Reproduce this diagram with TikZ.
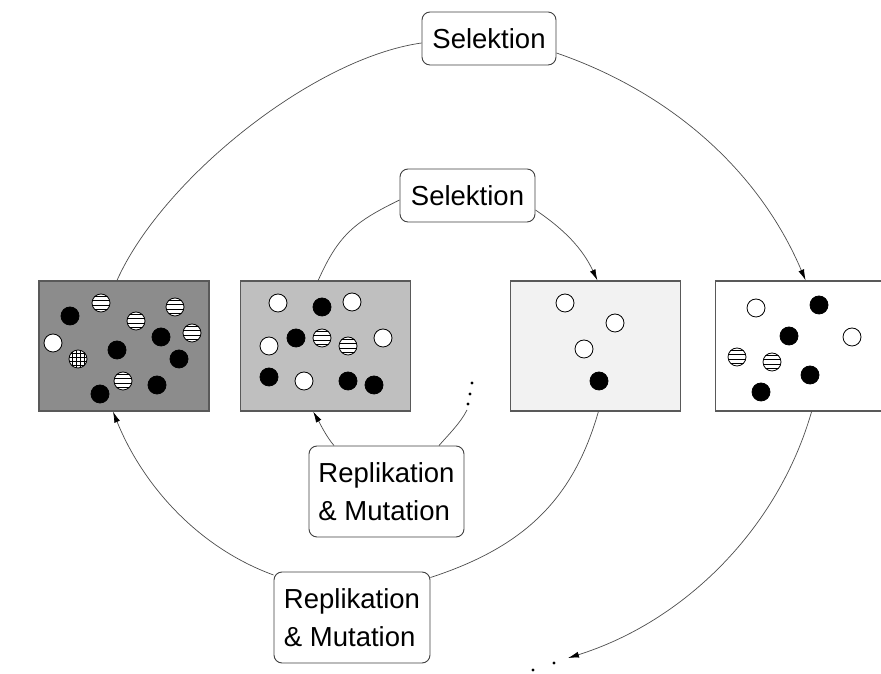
\documentclass[tikz,border=0pt]{standalone}
\usepackage{fontspec}
\setmainfont{Liberation Sans}
\usetikzlibrary{arrows.meta, positioning}

\begin{document}
\begin{tikzpicture}[x=1pt, y=1pt]
    % Styles
    \tikzstyle{popbox} = [rectangle, minimum width=170pt, minimum height=130pt, inner sep=0pt, draw=black!65, line width=1.2pt]
    \tikzstyle{labelbox} = [rectangle, rounded corners=8pt, draw=black!75, line width=0.9pt, fill=white, inner sep=0pt, align=left, font=\fontsize{27.5}{38}\selectfont]
    \tikzstyle{bead} = [circle, minimum size=18pt, inner sep=0pt, draw=black, line width=0.8pt]
    \tikzstyle{beadfull} = [bead, fill=black]
    \tikzstyle{beadempty} = [bead, fill=white]
    \tikzstyle{beadstripe} = [bead, fill=white, path picture={\foreach \d in {-6.75,-2.25,2.25,6.75} \draw[line width=1.3pt] ([shift={(-10pt,\d pt)}]path picture bounding box.center) -- ++(20pt,0);}]
    \tikzstyle{beadgrid} = [bead, fill=white, path picture={\foreach \d in {-6,-2,2,6} {\draw[line width=0.8pt] ([shift={(-10pt,\d pt)}]path picture bounding box.center) -- ++(20pt,0); \draw[line width=0.8pt] ([shift={(\d pt,-10pt)}]path picture bounding box.center) -- ++(0,20pt);}}]
    \tikzstyle{link} = [draw=black!70, line width=0.7pt]
    \tikzstyle{arrow} = [link, -{Latex[length=11pt, width=6pt, black]}]

    \useasboundingbox (0,0) rectangle (881,674);

    % Populations
    \node (pop1) [popbox, fill=black!45] at (124,328) {};
    \node (pop2) [popbox, fill=black!25, right=30pt of pop1] {};
    \node (pop3) [popbox, fill=black!5, right=99pt of pop2] {};
    \node (pop4) [popbox, fill=white, right=34pt of pop3] {};

    % Labels
    \node (selA) [labelbox, minimum width=134pt, minimum height=53pt] at (489,635.5) {Selektion};
    \node (selB) [labelbox, minimum width=135pt, minimum height=53pt] at (467.5,478.5) {Selektion};
    \node (repB) [labelbox, minimum width=155pt, minimum height=91pt] at (386.5,182.5) {Replikation\\\& Mutation};
    \node (repA) [labelbox, minimum width=156pt, minimum height=91pt] at (352,56.5) {Replikation\\\& Mutation};

    \coordinate (dotsA) at (568,16);
    \coordinate (dotsB) at (467,264);

    % Beads, population 1
    \foreach \x/\y [count=\i] in {70/358, 161/337, 117/324, 179/315, 157/289, 100/280}
        \node (pa-full\i) [beadfull] at (\x,\y) {};
    \foreach \x/\y [count=\i] in {101/371, 136/353, 175/367, 192/341, 123/293}
        \node (pa-stripe\i) [beadstripe] at (\x,\y) {};
    \node (pa-empty1) [beadempty] at (53,331) {};
    \node (pa-grid1) [beadgrid] at (78,315) {};

    % Beads, population 2
    \foreach \x/\y [count=\i] in {322/367, 296/336, 269/297, 348/293, 374/289}
        \node (pb-full\i) [beadfull] at (\x,\y) {};
    \foreach \x/\y [count=\i] in {278/371, 352/372, 269/328, 383/336, 304/293}
        \node (pb-empty\i) [beadempty] at (\x,\y) {};
    \foreach \x/\y [count=\i] in {322/336, 348/328}
        \node (pb-stripe\i) [beadstripe] at (\x,\y) {};

    % Beads, population 3
    \foreach \x/\y [count=\i] in {565/371, 615/351, 584/325}
        \node (pc-empty\i) [beadempty] at (\x,\y) {};
    \node (pc-full1) [beadfull] at (599,293) {};

    % Beads, population 4
    \foreach \x/\y [count=\i] in {819/369, 789/338, 810/299, 761/282}
        \node (pd-full\i) [beadfull] at (\x,\y) {};
    \foreach \x/\y [count=\i] in {756/366, 852/337}
        \node (pd-empty\i) [beadempty] at (\x,\y) {};
    \foreach \x/\y [count=\i] in {737/317, 772/312}
        \node (pd-stripe\i) [beadstripe] at (\x,\y) {};

    % Arrows
    \draw [link] ([xshift=-7pt]pop1.north) .. controls +(66:110) and +(188:110) .. ([yshift=-4.5pt]selA.west);
    \draw [arrow] ([yshift=-14.5pt]selA.east) .. controls +(-19:120) and +(113:120) .. ([xshift=5pt]pop4.north);
    \draw [link] ([xshift=-7pt]pop2.north) .. controls +(66:50) and +(206:50) .. ([yshift=-4.5pt]selB.west);
    \draw [arrow] ([yshift=-14.5pt]selB.east) .. controls +(-34:35) and +(115:35) .. ([xshift=2pt]pop3.north);
    \draw [link] ([xshift=3pt]pop3.south) .. controls +(254:90) and +(18:100) .. ([yshift=40pt]repA.east);
    \draw [arrow] ([yshift=42.5pt]repA.west) .. controls +(160:80) and +(-68:80) .. ([xshift=-11pt]pop1.south);
    \draw [arrow] ([xshift=-52.5pt]repB.north) .. controls +(131:12) and +(-60:12) .. ([xshift=-12pt]pop2.south);
    \draw [link] ([xshift=52.5pt]repB.north) .. controls +(49:15) and +(243:15) .. (dotsB);
    \draw [arrow] ([xshift=11pt]pop4.south) .. controls +(254:122) and +(17.4:122) .. (dotsA);

    % Dots
    \fill (472,291) circle (1.6);
    \fill (470,280) circle (1.6);
    \fill (468,270) circle (1.6);
    \fill (533,4) circle (1.6);
    \fill (554,11) circle (1.6);
\end{tikzpicture}
\end{document}
